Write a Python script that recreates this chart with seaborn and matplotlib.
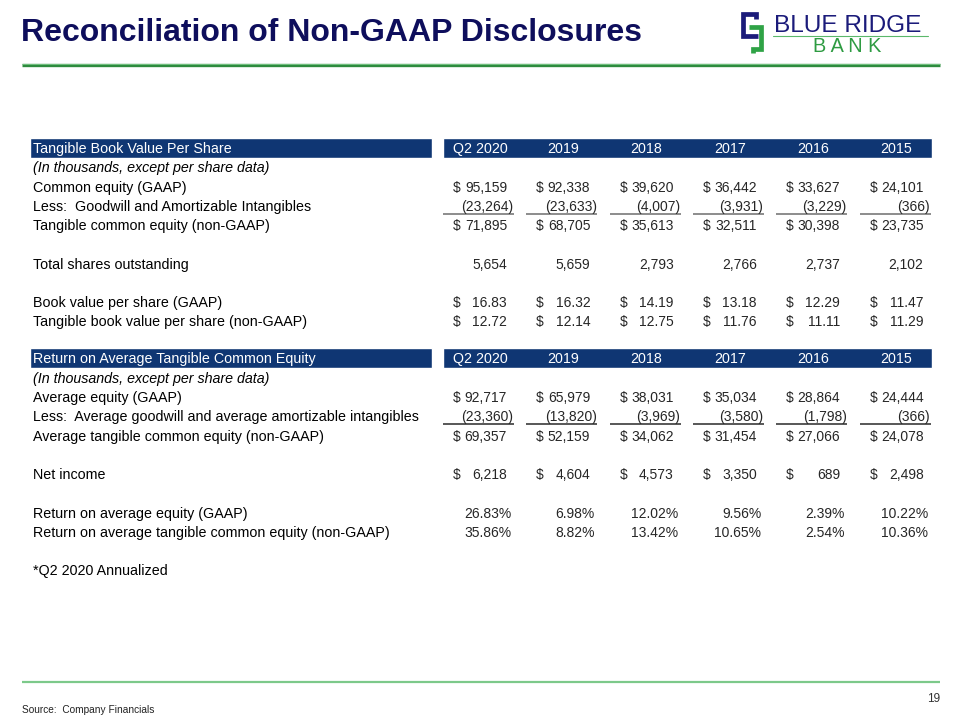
import matplotlib
matplotlib.use("Agg")
import matplotlib.pyplot as plt
import seaborn as sns

sns.set_theme(style="white")
plt.rcParams['font.family'] = ['Liberation Sans', 'DejaVu Sans']

# ---------------- data ----------------
periods = ["Q2 2020", "2019", "2018", "2017", "2016", "2015"]

common_equity = [95159, 92338, 39620, 36442, 33627, 24101]
goodwill_intangibles = [23264, 23633, 4007, 3931, 3229, 366]
tangible_common_equity = [71895, 68705, 35613, 32511, 30398, 23735]
shares_outstanding = [5654, 5659, 2793, 2766, 2737, 2102]
book_value_ps = [16.83, 16.32, 14.19, 13.18, 12.29, 11.47]
tangible_bv_ps = [12.72, 12.14, 12.75, 11.76, 11.11, 11.29]

avg_equity = [92717, 65979, 38031, 35034, 28864, 24444]
avg_goodwill = [23360, 13820, 3969, 3580, 1798, 366]
avg_tangible_equity = [69357, 52159, 34062, 31454, 27066, 24078]
net_income = [6218, 4604, 4573, 3350, 689, 2498]
roe_gaap = [26.83, 6.98, 12.02, 9.56, 2.39, 10.22]
rotce = [35.86, 8.82, 13.42, 10.65, 2.54, 10.36]

title = "Reconciliation of Non-GAAP Disclosures"
table1_title = "Tangible Book Value Per Share"
table2_title = "Return on Average Tangible Common Equity"
units_note = "(In thousands, except per share data)"

# ---------------- layout ----------------
NAVY_TITLE = "#0E0E5C"
BAR = "#0F3673"
GREEN = "#2E8B3E"
FS = 10.3
FSN = 10.0

fig = plt.figure(figsize=(9.6, 7.2), dpi=100)
ax = fig.add_axes([0, 0, 1, 1])
ax.set_xlim(0, 960)
ax.set_ylim(720, 0)
ax.axis("off")

COL_STEP = 83.3
def col_right(i):
    return 507 + COL_STEP * i
def col_left(i):
    return 453 + COL_STEP * i
def col_center(i):
    return 480 + COL_STEP * i

# title
ax.text(21, 41, title, fontsize=23, fontweight="bold", color=NAVY_TITLE,
        va="baseline", ha="left")
# green rule under title
ax.plot([22, 940], [65, 65], color=GREEN, lw=2.4, solid_capstyle="butt")
ax.plot([22, 940], [63.8, 63.8], color="#7CC98A", lw=0.6, solid_capstyle="butt")

# logo
ax.plot([755.5, 755.5, 743, 743, 757.5], [19, 14, 14, 35.5, 35.5],
        color="#1B1B7A", lw=3.4, solid_joinstyle="miter", solid_capstyle="butt")
ax.plot([748.5, 760.5, 760.5, 753, 753], [26.5, 26.5, 48.5, 48.5, 53],
        color="#2FA346", lw=3.4, solid_joinstyle="miter", solid_capstyle="butt")
ax.text(774, 32, "BLUE RIDGE", fontsize=17.6, color="#1B1B7A", va="baseline", ha="left")
ax.plot([773, 928], [35.5, 35.5], color="#5BB86B", lw=0.8)
ax.text(847, 52, "B A N K", fontsize=14.3, color="#2E9B42", va="baseline", ha="center")

# footer
ax.plot([22, 940], [682, 682], color="#7CC98A", lw=1.6, solid_capstyle="butt")
ax.text(940, 702, "19", fontsize=8.5, color="#333333", va="baseline", ha="right")
ax.text(22, 713, "Source:  Company Financials", fontsize=7.3, color="#222222",
        va="baseline", ha="left")


def header(y_top, label):
    ax.barh([y_top + 10], [402], left=30, height=20, color=BAR, align="center")
    ax.barh([y_top + 10], [489], left=443, height=20, color=BAR, align="center")
    ax.text(33, y_top + 15, label, fontsize=FS, color="white", va="baseline")
    for i, p in enumerate(periods):
        ax.text(col_center(i), y_top + 15, p, fontsize=FS, color="white",
                va="baseline", ha="center")


def label(y, text, italic=False):
    ax.text(33, y + 5, text, fontsize=FS, color="black", va="baseline",
            style="italic" if italic else "normal")


def dollar_row(y, values, decimals=0):
    for i, v in enumerate(values):
        ax.text(col_left(i), y + 5, "$", fontsize=FSN, va="baseline", ha="left")
        s = f"{v:,.{decimals}f}"
        ax.text(col_right(i), y + 5, s, fontsize=FSN, va="baseline", ha="right")


def neg_row(y, values, underline_y, ucolor):
    for i, v in enumerate(values):
        ax.text(col_right(i) + 6.5, y + 5, f"({v:,})", fontsize=FSN,
                va="baseline", ha="right")
        ax.plot([443 + COL_STEP * i, 514 + COL_STEP * i], [underline_y, underline_y],
                color=ucolor, lw=1.1, solid_capstyle="butt")


def plain_row(y, values):
    for i, v in enumerate(values):
        ax.text(col_right(i), y + 5, f"{v:,}", fontsize=FSN, va="baseline", ha="right")


def pct_row(y, values):
    for i, v in enumerate(values):
        ax.text(col_right(i) + 4.5, y + 5, f"{v:.2f}%", fontsize=FSN,
                va="baseline", ha="right")


# ---------------- table 1 ----------------
header(138, table1_title)
label(167, units_note, italic=True)
label(187, "Common equity (GAAP)")
dollar_row(187, common_equity)
label(206, "Less:  Goodwill and Amortizable Intangibles")
neg_row(206, goodwill_intangibles, 214, "#6E6E6E")
label(225, "Tangible common equity (non-GAAP)")
dollar_row(225, tangible_common_equity)
label(264, "Total shares outstanding")
plain_row(264, shares_outstanding)
label(302, "Book value per share (GAAP)")
dollar_row(302, book_value_ps, decimals=2)
label(321, "Tangible book value per share (non-GAAP)")
dollar_row(321, tangible_bv_ps, decimals=2)

# ---------------- table 2 ----------------
header(348, table2_title)
label(378, units_note, italic=True)
label(397, "Average equity (GAAP)")
dollar_row(397, avg_equity)
label(416, "Less:  Average goodwill and average amortizable intangibles")
neg_row(416, avg_goodwill, 424, "#2A2A2A")
label(436, "Average tangible common equity (non-GAAP)")
dollar_row(436, avg_tangible_equity)
label(474, "Net income")
dollar_row(474, net_income)
label(513, "Return on average equity (GAAP)")
pct_row(513, roe_gaap)
label(532, "Return on average tangible common equity (non-GAAP)")
pct_row(532, rotce)
label(570, "*Q2 2020 Annualized")

fig.savefig("out.png", dpi=100)
